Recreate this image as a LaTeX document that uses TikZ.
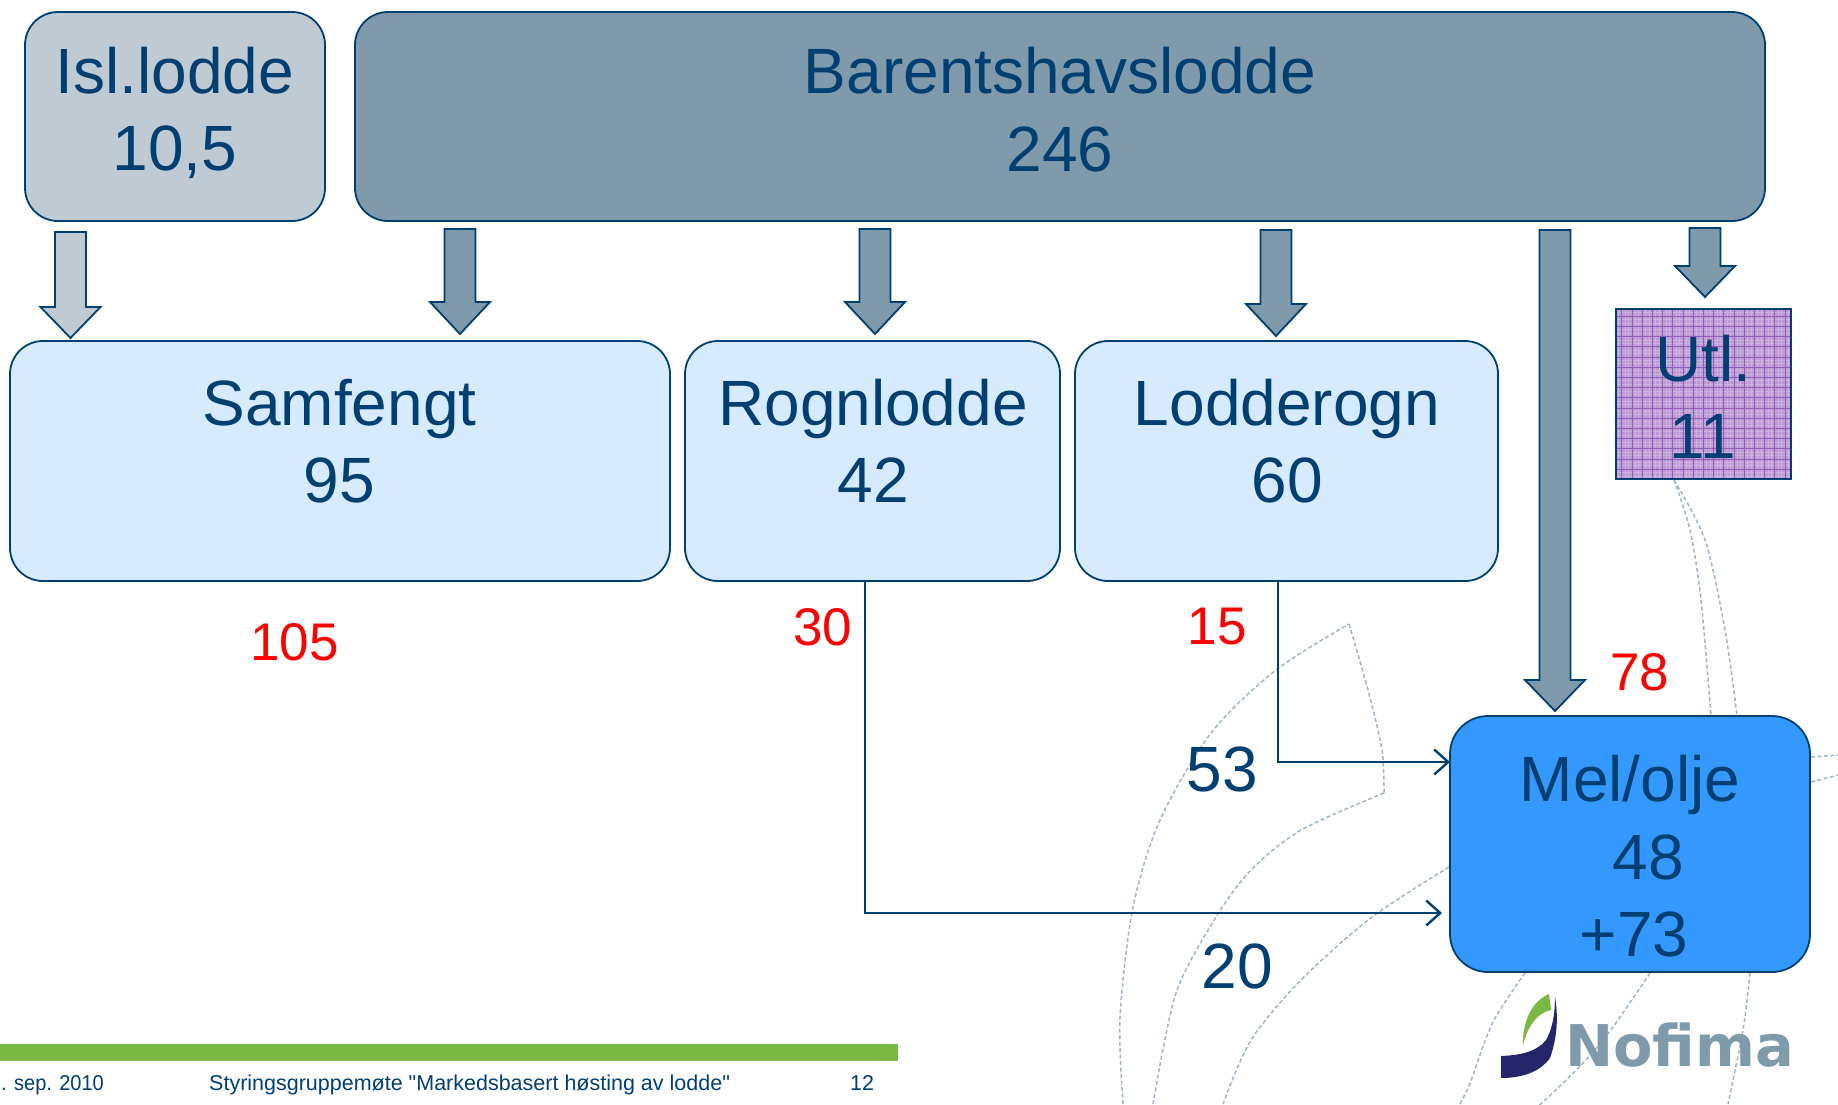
\documentclass[tikz,border=0pt]{standalone}
\usepackage{fontspec}
\setmainfont{Liberation Sans}
\newfontfamily\plainfont{Liberation Sans}
\newfontfamily\logofont{DejaVu Sans}
\usetikzlibrary{arrows.meta}
\definecolor{navy}{HTML}{003F72}
\definecolor{slatefill}{HTML}{7F9AAB}
\definecolor{palefill}{HTML}{BFCAD3}
\definecolor{skyfill}{HTML}{D6EBFF}
\definecolor{melfill}{HTML}{3399FF}
\definecolor{purplefill}{HTML}{BC98D4}
\definecolor{purpleline}{HTML}{7D3FAE}
\definecolor{barfill}{HTML}{7AB843}
\definecolor{curvecol}{HTML}{A0B6C4}
\definecolor{logonavy}{HTML}{25256B}
\tikzset{
  x=1pt,y=-1pt,
  roundbox/.style={draw=navy,line width=1.8pt,rounded corners=33pt,inner sep=0pt},
  big/.style={text=navy,font=\fontsize{64}{77.5}\selectfont,align=center,inner sep=0pt},
  redlabel/.style={text=red,font=\fontsize{53}{60}\selectfont,inner sep=0pt},
  foot/.style={text=navy,font=\plainfont\fontsize{21.5}{28}\selectfont,inner sep=0pt},
  flow/.style={draw=navy,line width=2.4pt,-{Straight Barb[length=14pt,width=25pt,line width=2.4pt]}},
  deco/.style={draw=curvecol,line width=1.5pt,dash pattern=on 4pt off 2.5pt},
  blockarrow/.style={draw=navy,line width=1.8pt,line join=miter},
}
\newcommand{\blockarr}[5]{% centre x, top, shoulder, tip, fill
  \path[blockarrow,fill=#5] (#1-15.5,#2) -- (#1+15.5,#2) -- (#1+15.5,#3) -- (#1+30,#3)
    -- (#1,#4) -- (#1-30,#3) -- (#1-15.5,#3) -- (#1-15.5,#2) -- cycle;}
\begin{document}
\begin{tikzpicture}
\useasboundingbox (0,0) rectangle (1838,1104);
\clip (0,0) rectangle (1838,1104);
\fill[white] (0,0) rectangle (1838,1104);
% decorative curves
\draw[deco] plot[smooth] coordinates {(1123,1104) (1120,1017) (1133,907) (1160,820) (1211,733) (1276,670) (1349,624)}
  plot[smooth] coordinates {(1349,624) (1368,690) (1382,750) (1384,793)}
  plot[smooth] coordinates {(1384,793) (1301,830) (1251,870) (1216,917) (1176,993) (1153,1104)};
\draw[deco] plot[smooth] coordinates {(1449,867) (1372,917) (1301,980) (1251,1040) (1223,1104)};
\draw[deco] plot[smooth] coordinates {(1674,480) (1690,530) (1701,600) (1711,716)};
\draw[deco] plot[smooth] coordinates {(1674,480) (1705,540) (1725,630) (1737,716)};
\draw[deco] (1811,757) -- (1838,755);
\draw[deco] (1811,782) -- (1838,775);
\draw[deco] plot[smooth] coordinates {(1525,973) (1493,1022) (1470,1083) (1460,1104)};
\draw[deco] plot[smooth] coordinates {(1650,973) (1613,1027) (1583,1063) (1543,1102) (1538,1104)};
\draw[deco] plot[smooth] coordinates {(1750,973) (1743,1030) (1728,1104)};
% boxes
\node[roundbox,fill=palefill,minimum width=300pt,minimum height=209pt] (isl) at (175,116.5) {};
\node[big] (islT) at (175,113) {Isl.lodde\\10,5};
\node[roundbox,fill=slatefill,minimum width=1410pt,minimum height=209pt] (bar) at (1060,116.5) {};
\node[big] (barT) at (1060,109.5) {Barentshavslodde\\246};
\node[roundbox,fill=skyfill,minimum width=660pt,minimum height=240pt] (sam) at (340,461) {};
\node[big] (samT) at (339.5,441) {Samfengt\\95};
\node[roundbox,fill=skyfill,minimum width=375pt,minimum height=240pt] (rog) at (872.5,461) {};
\node[big] (rogT) at (873,441) {Rognlodde\\42};
\node[roundbox,fill=skyfill,minimum width=423pt,minimum height=240pt] (lod) at (1286.5,461) {};
\node[big] (lodT) at (1287,441) {Lodderogn\\60};
\node[draw=navy,line width=1.6pt,outer sep=0pt,fill=purplefill,minimum width=175pt,minimum height=170pt,inner sep=0pt] (utl) at (1703.5,394) {};
\begin{scope}
  \clip (utl.south west) rectangle (utl.north east);
  \draw[purpleline!40,line width=.7pt] (1615,309) grid[step=3.4pt] (1792,479);
  \draw[purpleline!85,line width=.8pt] (1615,309) grid[step=10.2pt] (1792,479);
\end{scope}
\draw[navy,line width=1.8pt] (utl.south west) rectangle (utl.north east);
\node[big] (utlT) at (1703,397) {Utl.\\11};
\node[roundbox,fill=melfill,minimum width=360pt,minimum height=256pt,rounded corners=38pt] (mel) at (1630,844) {};
\node[big] (melT) at (1630,856.5) {Mel/olje\\\hspace*{36pt}48\\\hspace*{8pt}+73};
% block arrows
\blockarr{70.5}{232}{307}{338}{palefill}
\blockarr{460}{229}{302}{334}{slatefill}
\blockarr{875}{229}{302}{334}{slatefill}
\blockarr{1276}{230}{304}{336}{slatefill}
\blockarr{1555}{230}{680}{711}{slatefill}
\blockarr{1705}{228}{266}{297}{slatefill}
% connectors
\coordinate (rogout) at (865,581);
\coordinate (rogin) at (1442,913);
\coordinate (lodstart) at (1107,581);
\coordinate (lodturn) at (1278,581);
\coordinate (lodin) at (1450,762);
\draw[flow] (rogout) |- (rogin);
\draw[flow] (lodstart) -- (lodturn) |- (lodin);
% numbers
\node[redlabel] (r105) at (294.5,642) {105};
\node[redlabel] (r30) at (822.5,627) {30};
\node[redlabel] (r15) at (1217,627) {15};
\node[redlabel] (r78) at (1639.5,672) {78};
\node[big] (n53) at (1222,769) {53};
\node[big] (n20) at (1237,966) {20};
% footer
\fill[barfill] (0,1044) rectangle (898,1061);
\node[foot,anchor=base west,xscale=.93,transform shape] (fdate) at (1,1090) {. sep. 2010};
\node[foot,anchor=base west] (ftitle) at (209,1090) {Styringsgruppemøte "Markedsbasert høsting av lodde"};
\node[foot,anchor=base] (fnum) at (862,1090) {12};
% logo
\fill[logonavy] (1501,1056) .. controls (1525,1055) and (1538,1050) .. (1546,1040)
  .. controls (1553,1028) and (1555,1012) .. (1555,997)
  .. controls (1558,1015) and (1558,1035) .. (1550,1058)
  .. controls (1540,1072) and (1522,1078) .. (1501,1078) -- cycle;
\fill[barfill] (1549,994) -- (1551,1010) .. controls (1538,1012) and (1526,1028) .. (1523,1046)
  .. controls (1522,1025) and (1530,1002) .. (1549,994) -- cycle;
\node[anchor=base west,inner sep=0pt,text=slatefill,font=\logofont\bfseries\fontsize{57.5}{60}\selectfont] (logo) at (1565,1066) {Nofima};
\end{tikzpicture}
\end{document}
